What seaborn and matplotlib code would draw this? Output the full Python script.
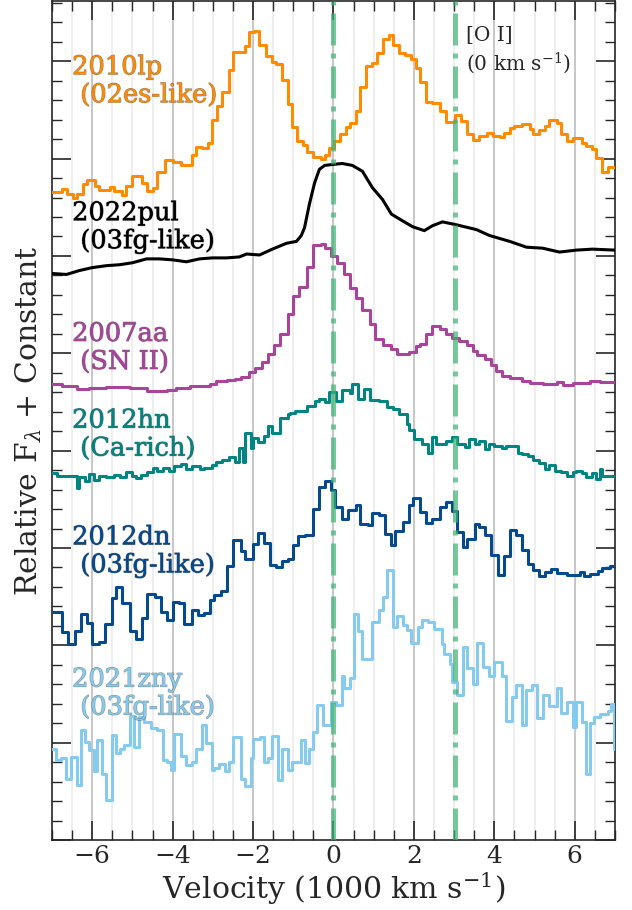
import matplotlib
matplotlib.use("Agg")
import matplotlib.pyplot as plt
import matplotlib.patheffects as pe
from matplotlib.ticker import MultipleLocator, NullFormatter
import numpy as np
import pandas as pd
import seaborn as sns

# Spectra: velocity (1000 km/s, left bin edges) and relative flux + constant
v_10lp = [-7.0, -6.74, -6.62, -6.49, -6.39, -6.24, -6.12, -5.94, -5.82, -5.57, -5.45, -5.27, -5.15,
          -5.02, -4.75, -4.63, -4.50, -4.38, -4.20, -4.00, -3.78, -3.53, -3.41, -3.26, -3.13, -3.01,
          -2.89, -2.76, -2.59, -2.51, -2.21, -2.09, -1.97, -1.84, -1.67, -1.54, -1.42, -1.27, -1.14,
          -1.02, -0.90, -0.77, -0.65, -0.52, -0.32, -0.22, -0.10, 0.02, 0.15, 0.30, 0.42, 0.55, 0.67,
          0.80, 0.97, 1.09, 1.22, 1.37, 1.47, 1.62, 1.79, 1.92, 2.04, 2.16, 2.31, 2.44, 2.64, 2.81,
          3.01, 3.18, 3.31, 3.46, 3.63, 3.81, 3.96, 4.13, 4.25, 4.38, 4.50, 4.68, 4.88, 4.95, 5.12,
          5.25, 5.37, 5.55, 5.67, 5.80, 5.95, 6.17, 6.29, 6.42, 6.54, 6.67, 6.82]
f_10lp = [6.66, 6.69, 6.64, 6.60, 6.64, 6.74, 6.78, 6.72, 6.68, 6.71, 6.67, 6.63, 6.72,
          6.82, 6.75, 6.67, 6.70, 6.86, 6.99, 6.97, 6.93, 7.04, 7.12, 7.11, 7.16, 7.40,
          7.54, 7.68, 7.91, 8.10, 8.16, 8.30, 8.31, 8.17, 8.05, 7.99, 7.97, 7.81, 7.56,
          7.32, 7.18, 7.14, 7.07, 7.02, 7.00, 7.04, 7.11, 7.18, 7.25, 7.32, 7.37, 7.49, 7.74,
          7.95, 7.98, 8.08, 8.23, 8.27, 8.17, 8.08, 8.06, 8.02, 7.93, 7.79, 7.58, 7.57, 7.49, 7.38,
          7.45, 7.39, 7.25, 7.19, 7.23, 7.26, 7.23, 7.22, 7.26, 7.31, 7.34, 7.36, 7.30, 7.25, 7.29,
          7.34, 7.40, 7.37, 7.25, 7.18, 7.21, 7.16, 7.13, 7.10, 7.01, 6.86, 6.91]

v_22pul = [-7.0, -6.64, -6.32, -6.00, -5.65, -5.32, -5.00, -4.65, -4.33, -4.00, -3.66, -3.33, -3.01,
           -2.66, -2.34, -2.16, -1.84, -1.52, -1.17, -0.92, -0.80, -0.72, -0.60, -0.47, -0.35, -0.22,
           -0.02, 0.22, 0.47, 0.72, 0.97, 1.22, 1.44, 1.72, 1.97, 2.26, 2.46, 2.71, 3.06, 3.56, 3.88,
           4.38, 4.80, 5.20, 5.62, 6.04, 6.44, 7.0]
f_22pul = [5.82, 5.81, 5.85, 5.88, 5.90, 5.91, 5.93, 5.97, 5.97, 5.96, 5.94, 5.97, 5.98,
           5.98, 5.99, 6.02, 6.01, 6.07, 6.13, 6.15, 6.21, 6.29, 6.53, 6.75, 6.89, 6.93,
           6.94, 6.95, 6.93, 6.87, 6.70, 6.58, 6.43, 6.36, 6.30, 6.26, 6.31, 6.35, 6.32, 6.27, 6.21,
           6.15, 6.09, 6.08, 6.04, 6.06, 6.07, 6.06]

v_07aa = [-7.0, -6.74, -6.39, -6.07, -5.65, -5.07, -4.65, -4.15, -3.91, -3.58, -3.08, -2.91, -2.66,
          -2.44, -2.31, -2.11, -1.94, -1.77, -1.62, -1.47, -1.32, -1.14, -1.00, -0.85, -0.67, -0.52,
          -0.32, -0.20, -0.07, 0.10, 0.25, 0.42, 0.55, 0.72, 0.92, 1.04, 1.22, 1.42, 1.59, 1.87, 2.04,
          2.14, 2.31, 2.46, 2.64, 2.81, 2.96, 3.13, 3.31, 3.46, 3.58, 3.76, 3.93, 4.05, 4.20, 4.38,
          4.70, 4.88, 5.20, 5.55, 5.70, 5.95, 6.37, 6.62]
f_07aa = [4.68, 4.66, 4.63, 4.64, 4.65, 4.64, 4.61, 4.62, 4.64, 4.66, 4.68, 4.72, 4.73,
          4.74, 4.76, 4.81, 4.85, 4.91, 4.99, 5.09, 5.20, 5.40, 5.59, 5.68, 5.89, 6.11,
          6.12, 6.08, 6.00, 5.93, 5.81, 5.67, 5.57, 5.44, 5.30, 5.15, 5.09, 5.04, 4.99, 5.01, 5.07,
          5.10, 5.20, 5.28, 5.25, 5.20, 5.16, 5.13, 5.09, 5.02, 4.98, 4.94, 4.88, 4.82, 4.77, 4.75,
          4.72, 4.70, 4.68, 4.71, 4.67, 4.70, 4.72, 4.71]

v_12hn = [-7.0, -6.87, -6.39, -6.32, -6.19, -6.07, -5.95, -5.82, -5.65, -5.45, -5.32, -5.15, -5.02,
          -4.90, -4.78, -4.65, -4.50, -4.38, -4.25, -4.08, -3.96, -3.78, -3.66, -3.51, -3.33, -3.21,
          -3.03, -2.91, -2.76, -2.59, -2.46, -2.34, -2.26, -2.19, -2.06, -1.99, -1.87, -1.74, -1.62,
          -1.52, -1.32, -1.14, -1.07, -0.95, -0.65, -0.47, -0.35, -0.22, -0.10, 0.07, 0.22, 0.40,
          0.47, 0.60, 0.77, 0.90, 1.14, 1.32, 1.47, 1.64, 1.82, 1.89, 2.01, 2.21, 2.34, 2.44, 2.56,
          2.69, 2.81, 2.96, 3.08, 3.26, 3.38, 3.51, 3.63, 3.76, 3.88, 4.00, 4.18, 4.30, 4.58, 4.70,
          4.83, 4.95, 5.12, 5.25, 5.37, 5.50, 5.67, 5.82, 5.95, 6.04, 6.17, 6.29, 6.42, 6.54, 6.62,
          6.69]
f_12hn = [3.77, 3.74, 3.62, 3.73, 3.69, 3.76, 3.70, 3.74, 3.73, 3.75, 3.73, 3.78, 3.74,
          3.72, 3.75, 3.78, 3.82, 3.79, 3.82, 3.79, 3.84, 3.86, 3.81, 3.84, 3.81, 3.82,
          3.85, 3.88, 3.90, 3.93, 3.88, 4.03, 3.88, 4.18, 4.03, 4.13, 4.09, 4.15, 4.25,
          4.18, 4.34, 4.38, 4.39, 4.41, 4.46, 4.51, 4.53, 4.50, 4.60, 4.51, 4.62, 4.59,
          4.68, 4.53, 4.63, 4.52, 4.51, 4.45, 4.43, 4.38, 4.27, 4.21, 4.12, 4.07, 3.98, 4.14, 4.07,
          4.07, 4.10, 4.14, 4.07, 4.04, 4.12, 4.07, 4.10, 4.02, 4.07, 4.05, 4.03, 4.05, 3.98, 3.97,
          3.94, 3.90, 3.87, 3.81, 3.85, 3.79, 3.78, 3.74, 3.78, 3.79, 3.77, 3.73, 3.77, 3.71, 3.81,
          3.74]

v_12dn = [-7.0, -6.74, -6.59, -6.44, -6.27, -6.14, -6.00, -5.82, -5.67, -5.52, -5.40, -5.25, -5.05,
          -4.90, -4.75, -4.63, -4.45, -4.28, -4.15, -4.00, -3.83, -3.71, -3.53, -3.38, -3.21, -3.08,
          -2.96, -2.79, -2.64, -2.51, -2.31, -2.19, -2.01, -1.87, -1.74, -1.57, -1.44, -1.27, -1.12,
          -1.00, -0.87, -0.70, -0.52, -0.37, -0.22, -0.07, 0.05, 0.22, 0.37, 0.55, 0.67, 0.85, 0.97,
          1.12, 1.29, 1.42, 1.54, 1.72, 1.87, 1.99, 2.16, 2.31, 2.46, 2.64, 2.81, 2.94, 3.06, 3.21,
          3.33, 3.51, 3.63, 3.76, 3.93, 4.08, 4.25, 4.38, 4.55, 4.68, 4.83, 4.95, 5.12, 5.25, 5.42,
          5.57, 5.80, 6.12, 6.24, 6.37, 6.57, 6.69, 6.87]
f_12dn = [2.34, 2.14, 2.01, 2.15, 2.32, 2.23, 2.01, 2.03, 2.22, 2.49, 2.60, 2.43, 2.15,
          2.06, 2.28, 2.53, 2.50, 2.34, 2.26, 2.45, 2.43, 2.22, 2.36, 2.31, 2.33, 2.47,
          2.52, 2.56, 2.81, 3.08, 2.97, 2.89, 3.04, 3.15, 3.05, 2.83, 2.80, 2.87, 2.89,
          3.03, 3.12, 3.13, 3.40, 3.63, 3.69, 3.60, 3.42, 3.30, 3.39, 3.44, 3.25, 3.24, 3.36,
          3.34, 3.14, 3.03, 3.17, 3.27, 3.44, 3.51, 3.37, 3.26, 3.30, 3.42, 3.47, 3.38, 3.16, 3.01,
          3.09, 3.25, 3.22, 3.13, 2.93, 2.72, 2.92, 3.18, 3.13, 2.98, 2.84, 2.77, 2.71, 2.75, 2.78,
          2.74, 2.72, 2.75, 2.71, 2.73, 2.76, 2.79, 2.82]

v_21zny = [-7.0, -6.89, -6.77, -6.64, -6.52, -6.39, -6.27, -6.19, -6.07, -5.95, -5.87, -5.75, -5.65,
           -5.52, -5.40, -5.32, -5.20, -5.07, -4.95, -4.83, -4.70, -4.53, -4.40, -4.25, -4.15, -4.03,
           -3.96, -3.78, -3.66, -3.53, -3.41, -3.28, -3.16, -3.03, -2.96, -2.84, -2.71, -2.59, -2.51,
           -2.31, -2.19, -2.06, -1.99, -1.82, -1.74, -1.62, -1.52, -1.39, -1.27, -1.14, -1.02, -0.82,
           -0.70, -0.62, -0.52, -0.40, -0.27, -0.05, 0.07, 0.20, 0.27, 0.40, 0.52, 0.60, 0.70, 0.95,
           1.14, 1.22, 1.34, 1.47, 1.59, 1.72, 1.84, 1.94, 2.09, 2.21, 2.34, 2.51, 2.69, 2.76, 2.89,
           2.96, 3.08, 3.21, 3.33, 3.46, 3.58, 3.71, 3.88, 4.00, 4.18, 4.30, 4.43, 4.55, 4.68, 4.80,
           4.93, 5.07, 5.20, 5.37, 5.55, 5.67, 5.80, 5.95, 6.04, 6.17, 6.29, 6.37, 6.49, 6.62, 6.82,
           6.89, 6.97]
f_21zny = [0.94, 0.82, 0.84, 0.63, 0.85, 0.57, 1.13, 1.01, 0.92, 0.71, 1.03, 0.68, 0.41,
           1.08, 0.89, 0.94, 0.98, 1.27, 0.96, 1.26, 1.21, 1.15, 1.13, 0.82, 0.80, 0.72,
           1.09, 0.86, 0.77, 0.80, 0.94, 1.18, 1.00, 0.72, 0.74, 0.78, 0.71, 0.80, 1.06,
           0.63, 0.55, 0.84, 1.04, 1.06, 0.80, 0.84, 1.07, 0.62, 0.94, 0.72, 0.80, 1.03,
           0.79, 0.94, 1.11, 1.39, 1.18, 1.42, 1.39, 1.69, 1.56, 1.66, 2.32, 2.15, 1.86, 2.24,
           2.36, 2.50, 2.77, 2.19, 2.30, 2.21, 2.16, 2.02, 2.19, 2.26, 2.24, 2.17, 2.01, 1.91, 1.81,
           1.62, 1.49, 1.98, 1.77, 1.60, 2.02, 1.78, 1.68, 1.83, 1.69, 1.22, 1.47, 1.59, 1.18, 1.54,
           1.59, 1.25, 1.49, 1.38, 1.56, 1.30, 1.42, 1.16, 1.42, 1.21, 0.68, 1.20, 1.26, 1.29, 1.33,
           1.40, 0.94]

names = ["2010lp\n (02es-like)", "2022pul\n (03fg-like)", "2007aa\n (SN II)",
         "2012hn\n (Ca-rich)", "2012dn\n (03fg-like)", "2021zny\n (03fg-like)"]
colors = ["#ff8c00", "black", "#a8449c", "#008583", "#054a8e", "#85cbef"]
label_y = [7.80, 6.30, 5.06, 4.17, 2.97, 1.51]
spectra = [(v_10lp, f_10lp), (v_22pul, f_22pul), (v_07aa, f_07aa),
           (v_12hn, f_12hn), (v_12dn, f_12dn), (v_21zny, f_21zny)]
stepped = [True, False, True, True, True, True]

oi_lines = [0.0, 3.03]

sns.set_style("ticks")
plt.rcParams["font.family"] = ["DejaVu Serif"]
plt.rcParams["mathtext.fontset"] = "dejavuserif"

fig = plt.figure(figsize=(6.32, 9.10), dpi=100)
ax = fig.add_axes([0.0823, 0.0769, 0.8907, 0.9221])

for (v, f), col, step in zip(spectra, colors, stepped):
    if step:
        df = pd.DataFrame({"v": v + [7.0], "f": f + [f[-1]]})
        sns.lineplot(data=df, x="v", y="f", color=col, lw=2.2, drawstyle="steps-post",
                     ax=ax, zorder=3)
    else:
        df = pd.DataFrame({"v": v, "f": f})
        sns.lineplot(data=df, x="v", y="f", color=col, lw=2.2, ax=ax, zorder=3)

for x0 in oi_lines:
    ax.axvline(x0, color="mediumseagreen", ls="-.", lw=3.6, alpha=0.7, zorder=4)

for name, col, yy in zip(names, colors, label_y):
    ax.text(-6.5, yy, name, color=col, fontsize=18.5, ha="left", va="center",
            linespacing=1.15,
            path_effects=[pe.withStroke(linewidth=0.9, foreground=(0, 0, 0, 0.35))])

ax.text(3.3, 8.36, "[O I]\n(0 km s$^{-1}$)", fontsize=14.5, ha="left", va="top",
        linespacing=1.25)

ax.set_xlim(-7, 7)
ax.set_ylim(0, 8.62)
ax.xaxis.set_major_locator(MultipleLocator(2))
ax.xaxis.set_minor_locator(MultipleLocator(0.5))
ax.yaxis.set_major_locator(MultipleLocator(1))
ax.yaxis.set_minor_locator(MultipleLocator(0.2))
ax.yaxis.set_major_formatter(NullFormatter())
ax.tick_params(which="both", direction="in", top=True, right=True, labelsize=18)
ax.tick_params(which="major", length=14, width=1.2)
ax.tick_params(which="minor", length=7.5, width=1.0)
ax.grid(axis="x", which="major", color="#bdbdbd", lw=1.2, zorder=0)
ax.grid(axis="x", which="minor", color="#ebebeb", lw=1.2, zorder=0)
ax.set_axisbelow(True)
for s in ax.spines.values():
    s.set_linewidth(1.2)

ax.set_xlabel("Velocity (1000 km s$^{-1}$)", fontsize=21.5, labelpad=2)
ax.set_ylabel("Relative F$_\\lambda$ + Constant", fontsize=21.5, labelpad=2)

fig.savefig("out.png", dpi=100)
